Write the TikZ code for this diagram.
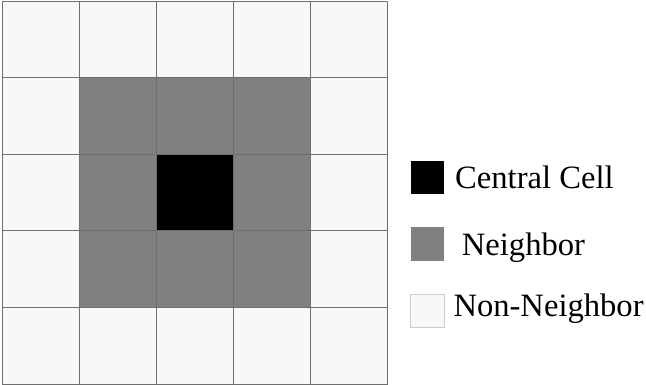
\documentclass[tikz,border=0pt]{standalone}
\usepackage{fontspec}
\setmainfont{Liberation Serif}
\definecolor{nonn}{HTML}{F8F8F8}
\definecolor{neigh}{HTML}{808080}
\definecolor{gridc}{HTML}{6E6E6E}
\begin{document}
\begin{tikzpicture}[x=1pt,y=-1pt,
  cellbox/.style={draw=gridc,line width=0.8pt,minimum size=76.7pt,inner sep=0pt,outer sep=0pt,fill=nonn},
  legbox/.style={minimum size=33.5pt,inner sep=0pt,outer sep=0pt},
  legtext/.style={anchor=base west,inner sep=0pt,font=\fontsize{32.6}{36}\selectfont}]
\useasboundingbox (0,0) rectangle (646,385);
% grid
\foreach \i in {0,...,4}{
  \foreach \j in {0,...,4}{
    \pgfmathsetmacro{\cx}{2.5+76.9*\i+38.45}
    \pgfmathsetmacro{\cy}{1+76.6*\j+38.3}
    \node[cellbox] (c-\i-\j) at (\cx,\cy) {};
  }
}
\foreach \i/\j in {1/1,2/1,3/1,1/2,3/2,1/3,2/3,3/3}{
  \node[cellbox,fill=neigh] at (c-\i-\j) {};
}
\node[cellbox,fill=black] at (c-2-2) {};
% legend
\node[legbox,fill=black] (lc) at (427.3,177.7) {};
\node[legbox,fill=neigh] (ln) at (427.3,243.8) {};
\node[legbox,fill=nonn,draw=black!20,line width=0.6pt] (lnn) at (427.3,310.7) {};
\node[legtext] (tc) at (455,188.3) {Central Cell};
\node[legtext] (tn) at (461.7,255) {Neighbor};
\node[legtext] (tnn) at (453.3,316.7) {Non-Neighbor};
\end{tikzpicture}
\end{document}
